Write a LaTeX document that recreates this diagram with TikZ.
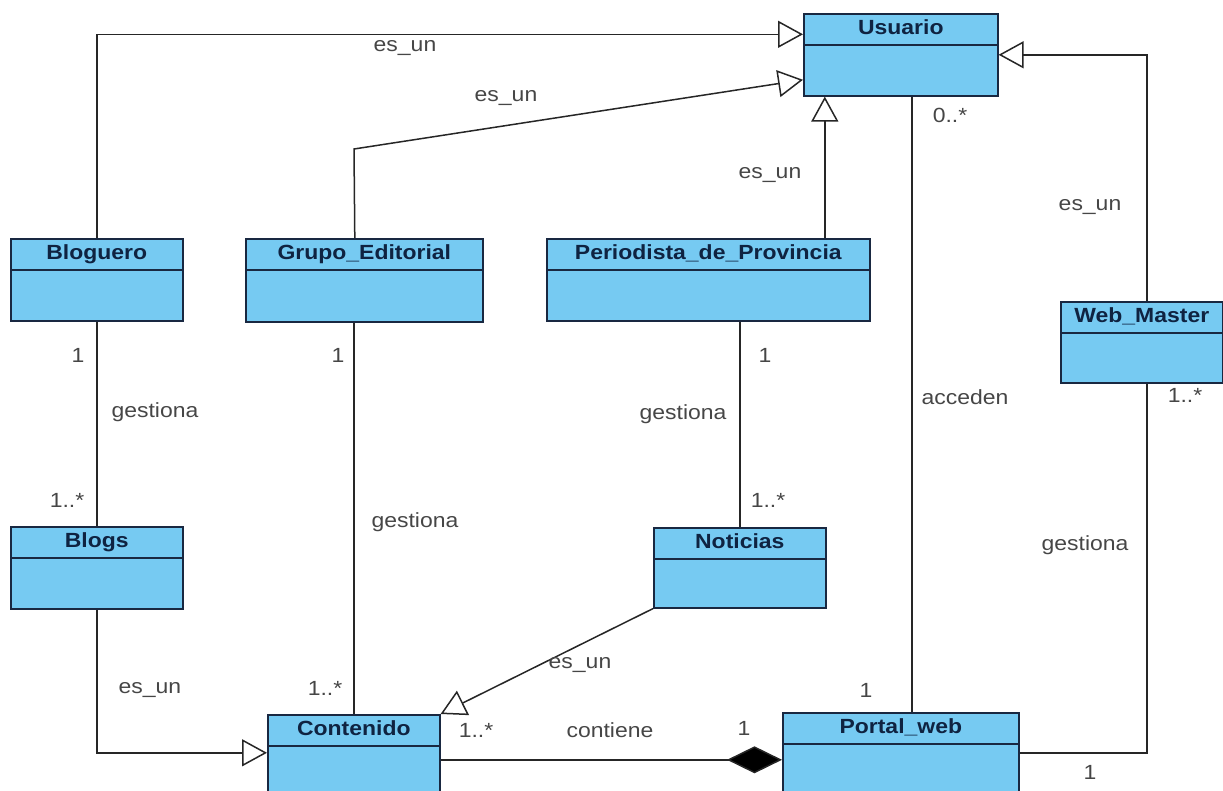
\documentclass[tikz,border=0pt]{standalone}
\usepackage{fontspec}
\setmainfont{Liberation Sans}[FakeStretch=1.12]
\usetikzlibrary{arrows.meta, positioning}
\definecolor{clsfill}{RGB}{118,202,242}
\definecolor{clsline}{RGB}{25,40,65}
\definecolor{clstext}{RGB}{15,35,65}
\definecolor{lbltext}{RGB}{70,70,70}
\tikzset{
  classbox/.style  = {rectangle, draw=clsline, line width=1.6pt, fill=clsfill, anchor=north west, inner sep=0pt},
  classhead/.style = {rectangle, draw=clsline, line width=1.6pt, fill=clsfill, anchor=north, minimum height=31pt,
                      inner sep=0pt, text height=15pt, text depth=4pt, text=clstext,
                      font=\fontsize{20.5}{24}\selectfont\bfseries},
  lbl/.style       = {font=\fontsize{20.5}{24}\selectfont, text=lbltext, inner sep=0pt},
  assoc/.style     = {line width=1.5pt, draw=black!85},
  gen/.style       = {assoc, -{Triangle[length=25pt, width=27pt, fill=white]}},
  comp/.style      = {assoc, -{Diamond[length=55pt, width=27pt, fill=black]}},
}

\begin{document}
\begin{tikzpicture}[x=1pt, y=-1pt]
  \clip (0,0) rectangle (1223,791);
  \useasboundingbox (0,0) rectangle (1223,791);

  % clases
  \node (usuario)    [classbox, minimum width=194pt, minimum height=82pt] at (803,13)  {};
  \node (usuarioT)   [classhead, minimum width=194pt] at (usuario.north) {Usuario};
  \node (bloguero)   [classbox, minimum width=172pt, minimum height=82pt] at (10,238)  {};
  \node (blogueroT)  [classhead, minimum width=172pt] at (bloguero.north) {Bloguero};
  \node (grupo)      [classbox, minimum width=237pt, minimum height=83pt] at (245,238) {};
  \node (grupoT)     [classhead, minimum width=237pt] at (grupo.north) {Grupo\_Editorial};
  \node (periodista) [classbox, minimum width=323pt, minimum height=82pt] at (546,238) {};
  \node (periodistaT)[classhead, minimum width=323pt] at (periodista.north) {Periodista\_de\_Provincia};
  \node (webmaster)  [classbox, minimum width=162pt, minimum height=81pt] at (1060,301) {};
  \node (webmasterT) [classhead, minimum width=162pt] at (webmaster.north) {Web\_Master};
  \node (blogs)      [classbox, minimum width=172pt, minimum height=82pt] at (10,526)  {};
  \node (blogsT)     [classhead, minimum width=172pt] at (blogs.north) {Blogs};
  \node (noticias)   [classbox, minimum width=172pt, minimum height=80pt] at (653,527) {};
  \node (noticiasT)  [classhead, minimum width=172pt] at (noticias.north) {Noticias};
  \node (contenido)  [classbox, minimum width=172pt, minimum height=90pt] at (267,714) {};
  \node (contenidoT) [classhead, minimum width=172pt] at (contenido.north) {Contenido};
  \node (portal)     [classbox, minimum width=236pt, minimum height=90pt] at (782,712) {};
  \node (portalT)    [classhead, minimum width=236pt] at (portal.north) {Portal\_web};

  \coordinate (gbend) at (354,149);

  % relaciones
  \draw [gen] (bloguero.north) |- ([yshift=-5pt]usuarioT.west);
  \draw [gen] ([xshift=-9.5pt]grupo.north) -- (gbend) -- ([yshift=-25pt]usuario.west);
  \draw [gen] ([xshift=116.5pt]periodista.north) -- ([xshift=116.5pt]periodista.north |- usuario.south);
  \draw [gen] ([xshift=5pt]webmaster.north) |- (usuario.east);
  \draw [assoc] ([xshift=11pt]usuario.south) -- ([xshift=11pt]portal.north);
  \draw [assoc] (bloguero.south) -- (blogs.north);
  \draw [assoc] (contenido.north |- grupo.south) -- (contenido.north);
  \draw [assoc] (noticias.north |- periodista.south) -- (noticias.north);
  \draw [gen] (noticias.south west) -- (contenido.north east);
  \draw [gen] (blogs.south) |- ([yshift=7pt]contenido.west);
  \draw [comp] (contenido.east) -- (contenido.east -| portal.west);
  \draw [assoc] ([xshift=5pt]webmaster.south) |- ([yshift=5pt]portal.east);

  % etiquetas
  \node (l1)  [lbl] at (405,48)   {es\_un};
  \node (l2)  [lbl] at (506,98)   {es\_un};
  \node (l3)  [lbl] at (770,175)  {es\_un};
  \node (l4)  [lbl] at (1090,207) {es\_un};
  \node (l5)  [lbl] at (950,115)  {0..*};
  \node (l6)  [lbl] at (78,355)   {1};
  \node (l7)  [lbl] at (155,412)  {gestiona};
  \node (l8)  [lbl] at (67,500)   {1..*};
  \node (l9)  [lbl] at (338,355)  {1};
  \node (l10) [lbl] at (415,522)  {gestiona};
  \node (l11) [lbl] at (325,688)  {1..*};
  \node (l12) [lbl] at (765,355)  {1};
  \node (l13) [lbl] at (683,414)  {gestiona};
  \node (l14) [lbl] at (768,500)  {1..*};
  \node (l15) [lbl] at (965,397)  {acceden};
  \node (l16) [lbl] at (1185,395) {1..*};
  \node (l17) [lbl] at (1085,545) {gestiona};
  \node (l18) [lbl] at (580,665)  {es\_un};
  \node (l19) [lbl] at (150,690)  {es\_un};
  \node (l20) [lbl] at (866,690)  {1};
  \node (l21) [lbl] at (476,730)  {1..*};
  \node (l22) [lbl] at (610,730)  {contiene};
  \node (l23) [lbl] at (744,728)  {1};
  \node (l24) [lbl] at (1090,772) {1};
\end{tikzpicture}
\end{document}
